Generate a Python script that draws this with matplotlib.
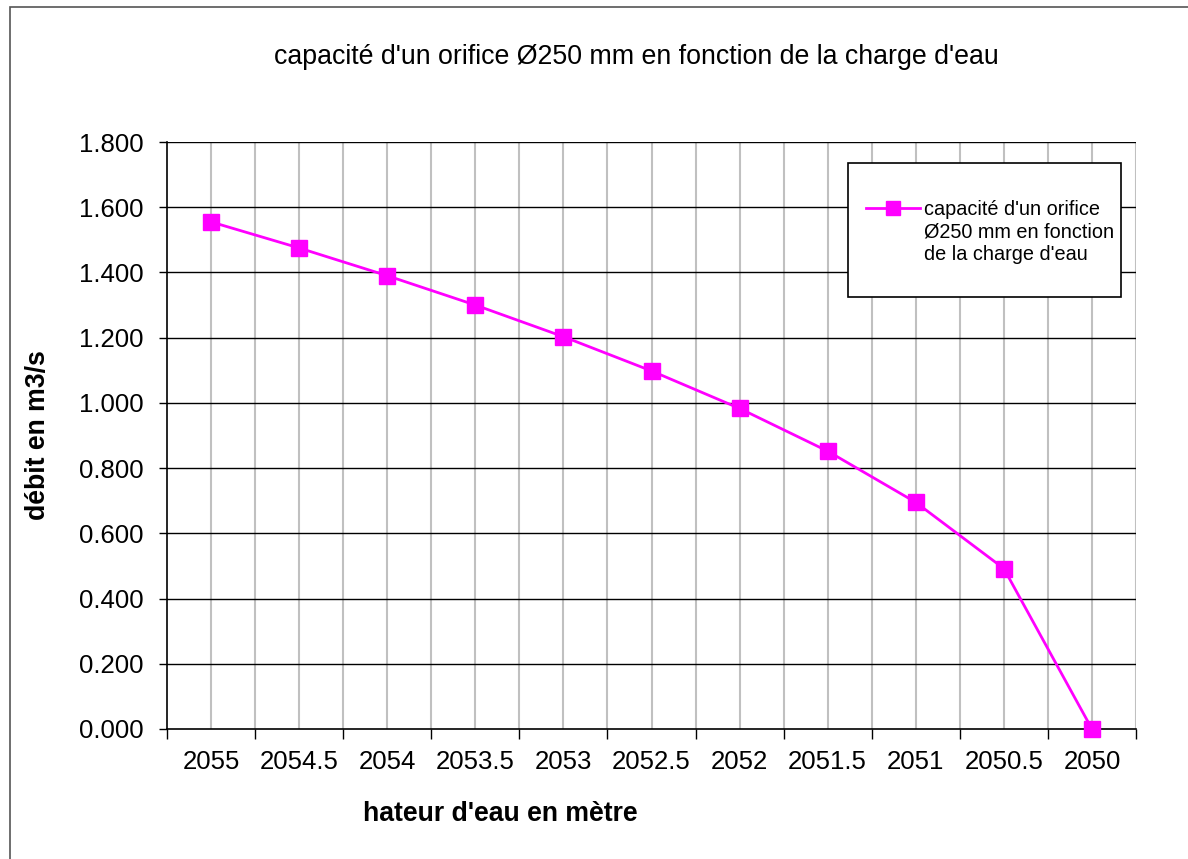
import matplotlib
matplotlib.use("Agg")
import matplotlib.pyplot as plt
from matplotlib.patches import Rectangle
from matplotlib.ticker import FixedLocator, FormatStrFormatter
from matplotlib.legend_handler import HandlerLine2D

plt.rcParams['font.family'] = ['Liberation Sans', 'DejaVu Sans']

# Water level (m) and orifice discharge (m3/s)
niveaux = ["2055", "2054.5", "2054", "2053.5", "2053", "2052.5",
           "2052", "2051.5", "2051", "2050.5", "2050"]
debits = [1.555, 1.475, 1.390, 1.300, 1.203, 1.098,
          0.983, 0.852, 0.695, 0.492, 0.000]

titre = "capacité d'un orifice Ø250 mm en fonction de la charge d'eau"
serie = "capacité d'un orifice\nØ250 mm en fonction\nde la charge d'eau"

W, H = 1188, 859
fig = plt.figure(figsize=(W / 100, H / 100), dpi=100)
fig.patch.set_facecolor("white")


class FirstLineHandler(HandlerLine2D):
    """Legend handle aligned with the first line of a multi-line label."""

    def __init__(self, shift, **kw):
        super().__init__(**kw)
        self.shift = shift

    def create_artists(self, legend, orig_handle, xdescent, ydescent,
                       width, height, fontsize, trans):
        return super().create_artists(legend, orig_handle, xdescent,
                                      ydescent - 2 * self.shift, width,
                                      height, fontsize, trans)


# outer chart frame
fig.patches.append(Rectangle((10 / W, -0.1), 1.2, 1.1 - 7 / H,
                             transform=fig.transFigure, fill=False,
                             edgecolor="#555555", linewidth=1.2))

ax = fig.add_axes([167 / W, 1 - 729 / H, (1136 - 167) / W, (729 - 142) / H])
x = list(range(len(niveaux)))
line, = ax.plot(x, debits, color="#ff00ff", linewidth=2, marker="s", markersize=11,
                markerfacecolor="#ff00ff", markeredgecolor="#ff00ff",
                label=serie, clip_on=False, zorder=5)

ax.set_xlim(-0.5, len(niveaux) - 0.5)
ax.set_ylim(0, 1.8)

# category labels at centres, tick marks at boundaries
ax.xaxis.set_major_locator(FixedLocator(x))
ax.set_xticklabels(niveaux)
ax.xaxis.set_minor_locator(FixedLocator([i - 0.5 for i in range(len(niveaux) + 1)]))
ax.tick_params(axis="x", which="major", length=0, pad=15, labelsize=18.5)
ax.tick_params(axis="x", which="minor", length=7, width=1, color="black")

ax.set_yticks([i * 0.2 for i in range(10)])
ax.yaxis.set_major_formatter(FormatStrFormatter("%.3f"))
ax.tick_params(axis="y", which="major", length=6, width=1, pad=11, labelsize=18.5)

# gridlines
for xv in [i * 0.5 - 0.5 for i in range(1, 2 * len(niveaux) + 1)]:
    ax.axvline(xv, color="#c0c0c0", linewidth=1.5, zorder=1)
for yv in [i * 0.2 for i in range(1, 10)]:
    ax.axhline(yv, color="black", linewidth=1, zorder=1)

for s in ["left", "bottom"]:
    ax.spines[s].set_color("black")
    ax.spines[s].set_linewidth(1.2)
ax.spines["top"].set_visible(False)
ax.spines["right"].set_visible(False)

fig.text(636 / W, 1 - 57 / H, titre, ha="center", va="center", fontsize=19.3)
fig.text(38 / W, 1 - 435 / H, "débit en m3/s", ha="center", va="center",
         rotation=90, fontsize=19.2, fontweight="bold")
fig.text(500 / W, 1 - 814 / H, "hateur d'eau en mètre", ha="center", va="center",
         fontsize=19.2, fontweight="bold")

# legend box
fig.patches.append(Rectangle((848 / W, 1 - 297 / H), (1121 - 848) / W, (297 - 163) / H,
                             transform=fig.transFigure, facecolor="white",
                             edgecolor="black", linewidth=1.2, zorder=6))
leg = fig.legend(handles=[line], loc="center left",
                 bbox_to_anchor=(866 / W, 1 - 232 / H),
                 bbox_transform=fig.transFigure, frameon=False, fontsize=14.3,
                 handlelength=2.7, handletextpad=0.2, markerscale=0.9,
                 borderpad=0, borderaxespad=0,
                 handler_map={line: FirstLineHandler(shift=18)})
for t in leg.get_texts():
    t.set_linespacing(1.23)
leg.set_zorder(7)

fig.savefig("out.png", dpi=100)
